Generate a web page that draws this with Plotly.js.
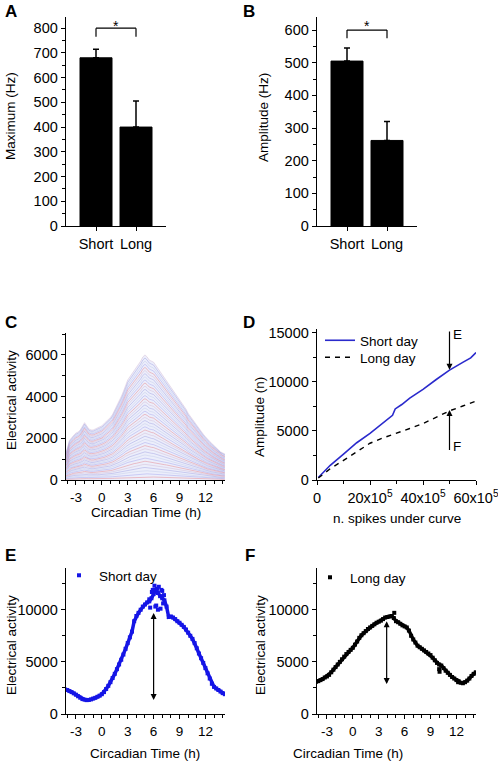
<!DOCTYPE html>
<html><head><meta charset="utf-8">
<script src="https://cdn.plot.ly/plotly-3.0.1.min.js"></script>
<style>html,body{margin:0;padding:0;background:#fff}#chart{width:498px;height:762px}</style>
</head><body><div id="chart"></div>
<script>
// ---------- DATA ----------
const barCategories = ['Short', 'Long'];
const maxHz = [680, 400];
const maxHzErr = [35, 105];
const ampHz = [505, 262];
const ampHzErr = [40, 58];

const ctHours = [-4.25,-4,-3.75,-3.5,-3.25,-3,-2.75,-2.5,-2.25,-2,-1.75,-1.5,-1.25,-1,-0.75,-0.5,-0.25,0,0.25,0.5,0.75,1,1.25,1.5,1.75,2,2.25,2.5,2.75,3,3.25,3.5,3.75,4,4.25,4.5,4.75,5,5.25,5.5,5.75,6,6.25,6.5,6.75,7,7.25,7.5,7.75,8,8.25,8.5,8.75,9,9.25,9.5,9.75,10,10.25,10.5,10.75,11,11.25,11.5,11.75,12,12.25,12.5,12.75,13,13.25,13.5,13.75,14,14.25];
const ctTickVals = [-3, 0, 3, 6, 9, 12];
const ctTickText = ['-3', '0', '3', '6', '9', '12'];

const cTopActivity = [1250,1500,1900,2050,2150,2250,2300,2400,2550,2750,2600,2450,2400,2400,2450,2500,2550,2600,2700,2800,2900,3000,3150,3350,3550,3750,4000,4250,4550,4800,4950,5100,5250,5350,5500,5700,5900,6000,5900,5750,5700,5650,5500,5350,5200,5050,4900,4800,4650,4500,4350,4200,4050,3900,3750,3600,3400,3200,3050,2900,2750,2600,2450,2350,2200,2080,1950,1850,1750,1650,1550,1450,1350,1300,1250];
const cStackLevels = [0.025,0.05,0.075,0.1,0.125,0.15,0.175,0.2,0.225,0.25,0.275,0.3,0.325,0.35,0.375,0.4,0.425,0.45,0.475,0.5,0.525,0.55,0.575,0.6,0.625,0.65,0.675,0.7,0.725,0.75,0.775,0.8,0.825,0.85,0.875,0.9,0.925,0.95,0.975,1];

const spikesShort = [50000,200000,500000,1000000,1500000,2000000,2500000,2750000,2850000,2950000,3200000,3500000,4000000,4500000,5000000,5500000,5800000,6000000];
const ampShort =    [250,700,1500,2650,3800,4750,5800,6400,6600,7250,7700,8350,9250,10250,11200,12000,12450,13000];
const spikesLong = [50000,500000,1000000,1500000,2000000,2500000,3000000,3500000,4000000,4500000,5000000,5500000,6000000];
const ampLong =    [200,1150,2000,2900,3750,4300,4750,5250,5750,6400,7050,7550,8050];
const dTickVals = [0, 2000000, 4000000, 6000000];
const dTickText = ['0', '20x10<sup>5</sup>', '40x10<sup>5</sup>', '60x10<sup>5</sup>'];

const eShortDay = [2350,2300,2200,2100,1980,1850,1700,1560,1430,1380,1330,1350,1400,1480,1550,1650,1760,1900,2100,2400,2700,3050,3450,3850,4300,4750,5200,5700,6250,6800,7350,7900,8900,9400,9700,10000,10300,10500,10700,10800,11100,11500,11900,11600,11300,11100,10900,10300,9300,9350,9250,9100,8900,8750,8550,8350,8100,7800,7500,7200,6800,6300,5800,5350,4900,4400,3900,3400,2900,2600,2450,2300,2150,2000,1900];
const eExtraX = [5.6,5.9,6.1,6.3,6.4,6.6,6.8,7.0,7.1,6.2,5.8,6.9,6.5,7.2,5.5];
const eExtraY = [10200,11900,12300,10400,12000,12200,10100,11800,10600,10300,11700,11900,10000,11400,11000];

const fLongDay = [3100,3150,3250,3350,3500,3600,3750,4000,4250,4500,4750,5000,5250,5500,5750,5950,6150,6350,6650,6950,7300,7550,7750,7950,8150,8300,8450,8600,8750,8850,8950,9100,9250,9300,9350,9400,9200,8900,8800,8650,8500,8400,8300,8000,7500,7150,6850,6550,6400,6250,6100,5950,5800,5650,5400,5150,4900,4750,4650,4400,4150,3950,3750,3550,3400,3250,3150,3000,2950,3050,3200,3400,3650,3850,4000];
const fExtraX = [10, 10.05, 4.8, 12.2];
const fExtraY = [4300, 4050, 9700, 3050];

// ---------- LAYOUT HELPERS ----------
const W = 498, H = 762;
const FONT = 'Liberation Sans, Arial, sans-serif';
const FS = 13.5, TFS = 14.5, XTFS = 13.5;
const px = v => v / W;
const py = v => 1 - v / H;
function xdom(a, b) { return [a / W, b / W]; }
function ydom(top, bottom) { return [1 - bottom / H, 1 - top / H]; }

function axisBase(extra) {
  return Object.assign({
    showline: true, linecolor: '#000', linewidth: 1.3,
    ticks: 'outside', ticklen: 4, tickwidth: 1, tickcolor: '#000',
    showgrid: false, zeroline: false, mirror: false,
    tickfont: {family: FONT, size: TFS, color: '#000'},
    ticklabeloverflow: 'allow',
    fixedrange: true
  }, extra);
}
function minor(d) { return {dtick: d, ticks: 'outside', ticklen: 2.5, tickwidth: 1, tickcolor: '#000', showgrid: false}; }
const xTickFont = {family: FONT, size: XTFS, color: '#000'};

const traces = [];
// A
traces.push({type: 'bar', x: barCategories, y: maxHz, xaxis: 'x', yaxis: 'y', width: 0.8,
  marker: {color: '#000', line: {color: '#000', width: 1}}, showlegend: false,
  error_y: {type: 'data', array: maxHzErr, arrayminus: [0, 0], symmetric: false, color: '#000', thickness: 1.5, width: 3}});
// B
traces.push({type: 'bar', x: barCategories, y: ampHz, xaxis: 'x2', yaxis: 'y2', width: 0.8,
  marker: {color: '#000', line: {color: '#000', width: 1}}, showlegend: false,
  error_y: {type: 'data', array: ampHzErr, arrayminus: [0, 0], symmetric: false, color: '#000', thickness: 1.5, width: 3}});
// C
traces.push({type: 'scatter', mode: 'lines', x: ctHours, y: cTopActivity, xaxis: 'x3', yaxis: 'y3',
  fill: 'tozeroy', fillcolor: 'rgba(233,235,250,0.85)', line: {width: 0}, showlegend: false, hoverinfo: 'skip'});
const cPalette = ['rgba(228,130,140,0.6)', 'rgba(150,150,235,0.5)', 'rgba(185,195,230,0.5)', 'rgba(135,135,215,0.45)', 'rgba(205,175,205,0.5)'];
cStackLevels.forEach((lv, i) => {
  traces.push({type: 'scatter', mode: 'lines', x: ctHours, y: cTopActivity.map(v => v * lv),
    xaxis: 'x3', yaxis: 'y3', line: {width: 0.8, color: cPalette[i % cPalette.length]}, showlegend: false, hoverinfo: 'skip'});
});
// D
traces.push({type: 'scatter', mode: 'lines', x: spikesShort, y: ampShort, xaxis: 'x4', yaxis: 'y4',
  name: 'Short day', line: {color: '#2a2acc', width: 1.6}, legend: 'legend'});
traces.push({type: 'scatter', mode: 'lines', x: spikesLong, y: ampLong, xaxis: 'x4', yaxis: 'y4',
  name: 'Long day', line: {color: '#000', width: 1.4, dash: '5px,5px'}, legend: 'legend4'});
// E
traces.push({type: 'scatter', mode: 'lines', x: ctHours, y: eShortDay, xaxis: 'x5', yaxis: 'y5',
  line: {color: '#1515e6', width: 3.5}, showlegend: false, hoverinfo: 'skip'});
traces.push({type: 'scatter', mode: 'markers', x: ctHours.concat(eExtraX), y: eShortDay.concat(eExtraY), xaxis: 'x5', yaxis: 'y5',
  name: 'Short day', marker: {symbol: 'square', size: 4, color: '#1515e6'}, legend: 'legend2'});
// F
traces.push({type: 'scatter', mode: 'lines', x: ctHours, y: fLongDay, xaxis: 'x6', yaxis: 'y6',
  line: {color: '#000', width: 3.5}, showlegend: false, hoverinfo: 'skip'});
traces.push({type: 'scatter', mode: 'markers', x: ctHours.concat(fExtraX), y: fLongDay.concat(fExtraY), xaxis: 'x6', yaxis: 'y6',
  name: 'Long day', marker: {symbol: 'square', size: 4, color: '#000'}, legend: 'legend3'});

const ctRange = [-4.15, 14.27];
const ctAxis = {range: ctRange, tickmode: 'array', tickvals: ctTickVals, ticktext: ctTickText, minor: minor(1), tickfont: xTickFont};
const leg = (x, y) => ({x: px(x), y: py(y), xanchor: 'left', yanchor: 'top', bgcolor: 'rgba(0,0,0,0)', borderwidth: 0,
  font: {family: FONT, size: FS, color: '#000'}, tracegroupgap: 0, itemwidth: 30});
const layout = {
  width: W, height: H, margin: {l: 0, r: 0, t: 0, b: 0},
  paper_bgcolor: '#fff', plot_bgcolor: 'rgba(0,0,0,0)',
  font: {family: FONT, size: FS, color: '#000'},
  barmode: 'group',
  xaxis: axisBase({domain: xdom(66, 166), anchor: 'y', type: 'category', range: [-0.75, 1.75]}),
  yaxis: axisBase({domain: ydom(17, 226), anchor: 'x', range: [0, 845], dtick: 100, minor: minor(50)}),
  xaxis2: axisBase({domain: xdom(317, 417), anchor: 'y2', type: 'category', range: [-0.75, 1.75]}),
  yaxis2: axisBase({domain: ydom(17, 226), anchor: 'x2', range: [0, 640], dtick: 100, minor: minor(50)}),
  xaxis3: axisBase(Object.assign({domain: xdom(66, 225), anchor: 'y3'}, ctAxis)),
  yaxis3: axisBase({domain: ydom(333, 480), anchor: 'x3', range: [0, 7050], dtick: 2000, tickformat: 'd', minor: minor(1000)}),
  xaxis4: axisBase({domain: xdom(317, 476), anchor: 'y4', range: [0, 6000000], tickmode: 'array', tickvals: dTickVals, ticktext: dTickText, minor: minor(1000000), tickfont: {family: FONT, size: TFS, color: '#000'}}),
  yaxis4: axisBase({domain: ydom(329, 480), anchor: 'x4', range: [0, 15400], dtick: 5000, tickformat: 'd', minor: minor(2500)}),
  xaxis5: axisBase(Object.assign({domain: xdom(66, 225), anchor: 'y5'}, ctAxis)),
  yaxis5: axisBase({domain: ydom(568, 714), anchor: 'x5', range: [0, 14000], dtick: 5000, tickformat: 'd', minor: minor(2500)}),
  xaxis6: axisBase(Object.assign({domain: xdom(317, 476), anchor: 'y6'}, ctAxis)),
  yaxis6: axisBase({domain: ydom(568, 714), anchor: 'x6', range: [0, 14000], dtick: 5000, tickformat: 'd', minor: minor(2500)}),
  legend: leg(320, 325),
  legend4: leg(320, 342),
  legend2: leg(59, 560),
  legend3: leg(310, 562),
  shapes: [
    {type: 'line', xref: 'x', yref: 'y', x0: 0, x1: 0, y0: 765, y1: 800, line: {color: '#000', width: 1.2}},
    {type: 'line', xref: 'x', yref: 'y', x0: 0, x1: 1, y0: 800, y1: 800, line: {color: '#000', width: 1.2}},
    {type: 'line', xref: 'x', yref: 'y', x0: 1, x1: 1, y0: 765, y1: 800, line: {color: '#000', width: 1.2}},
    {type: 'line', xref: 'x2', yref: 'y2', x0: 0, x1: 0, y0: 575, y1: 600, line: {color: '#000', width: 1.2}},
    {type: 'line', xref: 'x2', yref: 'y2', x0: 0, x1: 1, y0: 600, y1: 600, line: {color: '#000', width: 1.2}},
    {type: 'line', xref: 'x2', yref: 'y2', x0: 1, x1: 1, y0: 575, y1: 600, line: {color: '#000', width: 1.2}}
  ],
  annotations: []
};

const ann = layout.annotations;
function letter(t, x, y) { ann.push({text: '<b>' + t + '</b>', xref: 'paper', yref: 'paper', x: px(x), y: py(y), xanchor: 'left', yanchor: 'middle', showarrow: false, font: {family: FONT, size: 17, color: '#000'}}); }
letter('A', 3, 11); letter('B', 241, 11); letter('C', 3, 322); letter('D', 241, 322); letter('E', 3, 555); letter('F', 243, 555);
function ytitle(t, x, y) { ann.push({text: t, xref: 'paper', yref: 'paper', x: px(x), y: py(y), xanchor: 'center', yanchor: 'middle', textangle: -90, showarrow: false, font: {family: FONT, size: FS, color: '#000'}}); }
ytitle('Maximum (Hz)', 10, 116); ytitle('Amplitude (Hz)', 264, 118);
ytitle('Electrical activity', 11, 400); ytitle('Amplitude (n)', 259, 417);
ytitle('Electrical activity', 11, 645); ytitle('Electrical activity', 260, 645);
function xtitle(t, x, y) { ann.push({text: t, xref: 'paper', yref: 'paper', x: px(x), y: py(y), xanchor: 'center', yanchor: 'middle', showarrow: false, font: {family: FONT, size: FS, color: '#000'}}); }
xtitle('Circadian Time (h)', 145.5, 512); xtitle('n. spikes under curve', 397, 518);
xtitle('Circadian Time (h)', 145, 753); xtitle('Circadian Time (h)', 347.5, 753);
// significance stars
ann.push({text: '*', xref: 'x', yref: 'paper', x: 0.5, y: py(25.5), xanchor: 'center', yanchor: 'middle', showarrow: false, font: {family: FONT, size: 14, color: '#000'}});
ann.push({text: '*', xref: 'x2', yref: 'paper', x: 0.5, y: py(25.5), xanchor: 'center', yanchor: 'middle', showarrow: false, font: {family: FONT, size: 14, color: '#000'}});
// D arrows + labels
ann.push({xref: 'x4', yref: 'y4', axref: 'x4', ayref: 'y4', x: 5000000, y: 11250, ax: 5000000, ay: 15300, text: '', showarrow: true, arrowhead: 2, arrowsize: 1, arrowwidth: 1.2, arrowcolor: '#000', standoff: 0});
ann.push({xref: 'x4', yref: 'y4', axref: 'x4', ayref: 'y4', x: 5000000, y: 7150, ax: 5000000, ay: 2900, text: '', showarrow: true, arrowhead: 2, arrowsize: 1, arrowwidth: 1.2, arrowcolor: '#000', standoff: 0});
ann.push({text: 'E', xref: 'paper', yref: 'paper', x: px(451), y: py(335), xanchor: 'left', yanchor: 'middle', showarrow: false, font: {family: FONT, size: FS, color: '#000'}});
ann.push({text: 'F', xref: 'paper', yref: 'paper', x: px(451), y: py(447), xanchor: 'left', yanchor: 'middle', showarrow: false, font: {family: FONT, size: FS, color: '#000'}});
// E, F double arrows
ann.push({xref: 'x5', yref: 'y5', axref: 'x5', ayref: 'y5', x: 6, y: 1350, ax: 6, ay: 9840, text: '', showarrow: true, arrowhead: 2, startarrowhead: 2, arrowside: 'end+start', arrowsize: 1, startarrowsize: 1, arrowwidth: 1.2, arrowcolor: '#000', standoff: 0, startstandoff: 0});
ann.push({xref: 'x6', yref: 'y6', axref: 'x6', ayref: 'y6', x: 3.92, y: 2880, ax: 3.92, ay: 9040, text: '', showarrow: true, arrowhead: 2, startarrowhead: 2, arrowside: 'end+start', arrowsize: 1, startarrowsize: 1, arrowwidth: 1.2, arrowcolor: '#000', standoff: 0, startstandoff: 0});

Plotly.newPlot('chart', traces, layout, {displayModeBar: false, staticPlot: true});
</script>
</body></html>
